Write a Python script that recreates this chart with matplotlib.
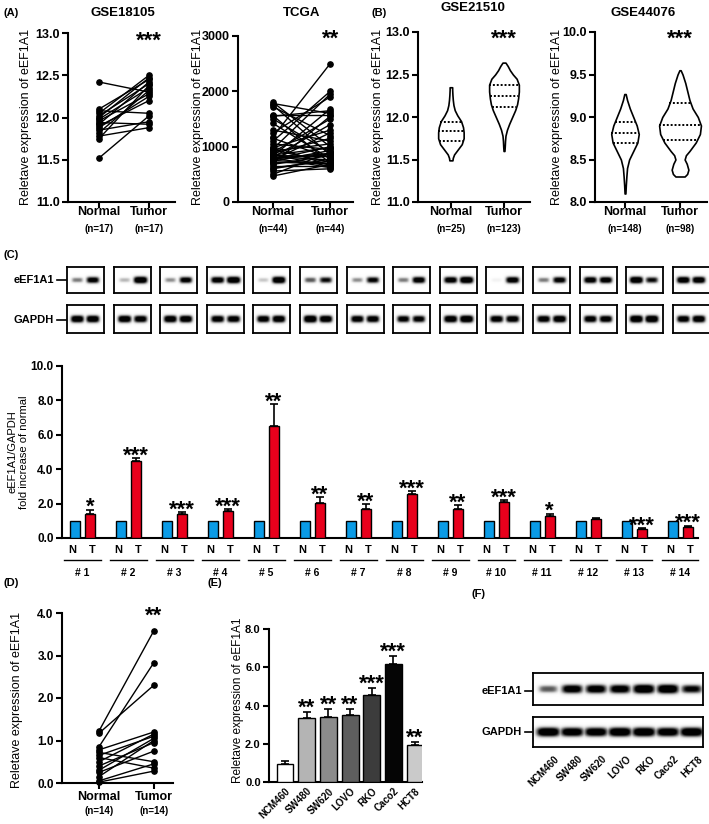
import numpy as np
import matplotlib
matplotlib.use("Agg")
import matplotlib.pyplot as plt
from matplotlib.ticker import FormatStrFormatter
from matplotlib.lines import Line2D

plt.rcParams['font.family'] = ['Liberation Sans', 'DejaVu Sans']
plt.rcParams['font.weight'] = 'bold'

# ---------------- DATA ----------------
gse18105_normal = [12.42, 12.10, 12.08, 12.05, 12.02, 12.00, 11.98, 11.96, 11.94, 11.92, 11.90, 11.88, 11.85, 11.82, 11.78, 11.75, 11.52]
gse18105_tumor = [12.30, 12.45, 12.05, 12.50, 12.40, 12.47, 12.35, 12.28, 11.92, 12.42, 12.20, 12.25, 11.95, 12.32, 11.88, 12.38, 12.02]

tcga_normal = [1800, 1780, 1750, 1720, 1580, 1560, 1550, 1500, 1420, 1300, 1250, 1180, 1150, 1100, 1050,
               1000, 980, 960, 940, 920, 900, 880, 860, 850, 840, 830, 820, 810, 800, 790, 780, 770,
               760, 750, 740, 720, 700, 680, 650, 620, 600, 560, 500, 470]
tcga_tumor = [1000, 1600, 850, 1200, 1580, 700, 1650, 900, 780, 1100, 1900, 2500, 800, 2000, 950,
              660, 1300, 1950, 720, 1050, 1500, 1150, 640, 980, 820, 1680, 760, 1400, 620, 880, 860, 1000,
              1250, 700, 930, 690, 1550, 840, 650, 740, 780, 600, 900, 680]

# violin outlines: levels and relative half-widths
v21510_n_y = [11.49, 11.52, 11.56, 11.62, 11.68, 11.75, 11.82, 11.88, 11.95, 12.02, 12.08, 12.14, 12.20, 12.26, 12.32, 12.35]
v21510_n_w = [0.12, 0.15, 0.25, 0.55, 0.85, 1.0, 1.0, 0.95, 0.8, 0.5, 0.3, 0.2, 0.15, 0.12, 0.1, 0.1]
v21510_n_q = [11.72, 11.83, 11.94]
v21510_t_y = [11.60, 11.65, 11.72, 11.78, 11.85, 11.92, 12.00, 12.08, 12.15, 12.22, 12.30, 12.38, 12.45, 12.50, 12.55, 12.60, 12.64]
v21510_t_w = [0.03, 0.05, 0.07, 0.1, 0.2, 0.35, 0.55, 0.75, 0.88, 0.95, 1.0, 1.0, 0.85, 0.6, 0.4, 0.25, 0.1]
v21510_t_q = [12.12, 12.25, 12.38]
v44076_n_y = [8.10, 8.20, 8.30, 8.40, 8.50, 8.60, 8.70, 8.80, 8.90, 9.00, 9.10, 9.20, 9.27]
v44076_n_w = [0.03, 0.06, 0.1, 0.15, 0.3, 0.6, 0.9, 1.0, 0.85, 0.6, 0.35, 0.15, 0.05]
v44076_n_q = [8.70, 8.81, 8.94]
v44076_t_y = [8.30, 8.33, 8.38, 8.45, 8.50, 8.55, 8.60, 8.70, 8.80, 8.90, 9.00, 9.10, 9.20, 9.30, 9.40, 9.50, 9.55]
v44076_t_w = [0.22, 0.34, 0.4, 0.32, 0.22, 0.28, 0.45, 0.75, 0.95, 1.0, 0.85, 0.6, 0.45, 0.35, 0.25, 0.12, 0.03]
v44076_t_q = [8.73, 8.91, 9.16]

samples = ['# 1', '# 2', '# 3', '# 4', '# 5', '# 6', '# 7', '# 8', '# 9', '# 10', '# 11', '# 12', '# 13', '# 14']
c_normal = [1.0] * 14
c_tumor = [1.38, 4.49, 1.38, 1.59, 6.52, 2.06, 1.71, 2.54, 1.67, 2.08, 1.28, 1.10, 0.52, 0.64]
c_tumor_err = [0.27, 0.17, 0.13, 0.08, 1.25, 0.33, 0.25, 0.20, 0.23, 0.11, 0.14, 0.08, 0.06, 0.08]
c_stars = ['*', '***', '***', '***', '**', '**', '**', '***', '**', '***', '*', '', '***', '***']

c_blot_eef_n = [0.45, 0.3, 0.4, 0.9, 0.25, 0.55, 0.4, 0.45, 0.9, 0.08, 0.45, 0.9, 1.0, 0.95]
c_blot_eef_t = [0.85, 1.0, 0.85, 1.0, 1.0, 0.75, 0.8, 0.9, 1.0, 0.9, 0.85, 0.9, 0.75, 0.95]
c_blot_gap_n = [0.95, 0.95, 0.95, 0.9, 0.9, 1.0, 0.9, 0.85, 0.95, 0.9, 0.9, 0.9, 1.0, 0.9]
c_blot_gap_t = [0.95, 0.9, 0.95, 0.9, 0.95, 0.95, 0.9, 0.85, 1.0, 0.9, 0.95, 0.9, 1.0, 0.95]

d_normal = [1.22, 1.17, 0.85, 0.78, 0.72, 0.65, 0.60, 0.50, 0.40, 0.30, 0.25, 0.15, 0.05, 0.02]
d_tumor = [3.58, 2.30, 2.83, 1.20, 0.50, 1.10, 0.35, 1.15, 0.95, 1.05, 0.75, 1.00, 0.45, 0.28]

cells = ['NCM460', 'SW480', 'SW620', 'LOVO', 'RKO', 'Caco2', 'HCT8']
e_values = [0.96, 3.34, 3.38, 3.52, 4.53, 6.17, 1.92]
e_err = [0.14, 0.33, 0.42, 0.28, 0.37, 0.40, 0.17]
e_stars = ['', '**', '**', '**', '***', '***', '**']
e_colors = ['#ffffff', '#b4b4b4', '#8c8c8c', '#5e5e5e', '#3c3c3c', '#050505', '#cacaca']

f_eef = [0.55, 0.9, 0.9, 0.9, 1.0, 1.0, 0.8]
f_gap = [1.0, 0.95, 0.95, 1.0, 1.0, 0.95, 1.0]

# ---------------- LAYOUT HELPERS ----------------
W, H = 709, 824
fig = plt.figure(figsize=(W / 100, H / 100), dpi=100)


def px_ax(l, t, r, b):
    return fig.add_axes([l / W, 1 - b / H, (r - l) / W, (b - t) / H])


def ftext(x, y, s, **kw):
    fig.text(x / W, 1 - y / H, s, **kw)


def style(ax, lw=1.5, fs=9):
    for s in ['top', 'right']:
        ax.spines[s].set_visible(False)
    for s in ['left', 'bottom']:
        ax.spines[s].set_linewidth(lw)
    ax.tick_params(width=lw, length=4, labelsize=fs, pad=2)


def star(ax, x, y, s, off=8, fs=16):
    ax.annotate(s, (x, y), xytext=(0, off - 7), textcoords='offset pixels',
                ha='center', va='center', fontsize=fs, fontweight='bold', annotation_clip=False)


def ylab(x, y, s, fs=9):
    ftext(x, y, s, rotation=90, ha='center', va='center', fontsize=fs, fontweight='normal')


def group_labels(ax, ns, off1=-10, off2=-27):
    for x, lab in zip([1, 2], ['Normal', 'Tumor']):
        ax.annotate(lab, (x, 0), xycoords=('data', 'axes fraction'), xytext=(0, off1),
                    textcoords='offset pixels', ha='center', va='center', fontsize=9, fontweight='bold')
    for x, n in zip([1, 2], ns):
        ax.annotate('(n=%d)' % n, (x, 0), xycoords=('data', 'axes fraction'), xytext=(0, off2),
                    textcoords='offset pixels', ha='center', va='center', fontsize=7, fontweight='bold')


def paired(ax, normal, tumor):
    for a, b in zip(normal, tumor):
        ax.plot([1, 2], [a, b], color='k', lw=1.0, marker='o', ms=3.8, mfc='k', mec='k', clip_on=False)
    ax.set_xticks([1, 2])
    ax.set_xticklabels(['', ''])


def violin(ax, x0, ys, ws, maxw, quarts):
    ys = np.asarray(ys)
    hw = np.asarray(ws) * maxw
    ax.fill_betweenx(ys, x0 - hw, x0 + hw, facecolor='white', edgecolor='k', lw=1.2)
    for q in quarts:
        w = np.interp(q, ys, hw)
        ax.plot([x0 - w, x0 + w], [q, q], color='k', lw=1.4, ls=(0, (1, 1)))


def blot(ax, intens, lanes, hw0, th0):
    nx, ny = 240, 60
    X, Y = np.meshgrid(np.linspace(0, 1, nx), np.linspace(0, 1, ny))
    img = np.zeros_like(X)
    for xc, v in zip(lanes, intens):
        th = th0 * (0.55 + 0.55 * v)
        hw = hw0 * (0.8 + 0.3 * v)
        img = np.maximum(img, v * np.exp(-np.abs((X - xc) / hw) ** 4) * np.exp(-np.abs((Y - 0.5) / th) ** 2.5))
    ax.imshow(img, cmap='Greys', vmin=0, vmax=0.75, extent=(0, 1, 0, 1), aspect='auto',
              interpolation='bilinear')
    ax.set_xticks([])
    ax.set_yticks([])
    ax.set_xlim(0, 1)
    ax.set_ylim(0, 1)
    for s in ax.spines.values():
        s.set_linewidth(1.3)


# ---------------- PANEL A ----------------
ax = px_ax(68, 33, 175, 202)
style(ax)
paired(ax, gse18105_normal, gse18105_tumor)
ax.set_xlim(0.38, 2.52)
ax.set_ylim(11.0, 13.0)
ax.set_yticks([11.0, 11.5, 12.0, 12.5, 13.0])
ax.yaxis.set_major_formatter(FormatStrFormatter('%.1f'))
star(ax, 2, 12.89, '***')
group_labels(ax, [17, 17])
ylab(26, 117, 'Reletave expression of eEF1A1')
ftext(123, 13, 'GSE18105', ha='center', va='center', fontsize=9.5)

ax = px_ax(238, 36, 353, 202)
style(ax)
paired(ax, tcga_normal, tcga_tumor)
ax.set_xlim(0.386, 2.4)
ax.set_ylim(0, 3000)
ax.set_yticks([0, 1000, 2000, 3000])
star(ax, 2, 2930, '**')
group_labels(ax, [44, 44])
ylab(198, 117, 'Reletave expression of eEF1A1')
ftext(302, 13, 'TCGA', ha='center', va='center', fontsize=9.5)
ftext(3, 13, '(A)', ha='left', va='center', fontsize=8)

# ---------------- PANEL B ----------------
ax = px_ax(418, 32, 530, 202)
style(ax)
violin(ax, 1, v21510_n_y, v21510_n_w, 0.24, v21510_n_q)
violin(ax, 2, v21510_t_y, v21510_t_w, 0.28, v21510_t_q)
ax.set_xticks([1, 2])
ax.set_xticklabels(['', ''])
ax.set_xlim(0.38, 2.49)
ax.set_ylim(11.0, 13.0)
ax.set_yticks([11.0, 11.5, 12.0, 12.5, 13.0])
ax.yaxis.set_major_formatter(FormatStrFormatter('%.1f'))
star(ax, 2, 12.9, '***')
group_labels(ax, [25, 123])
ylab(378, 117, 'Reletave expression of eEF1A1')
ftext(473, 8, 'GSE21510', ha='center', va='center', fontsize=9.5)
ftext(372, 13, '(B)', ha='left', va='center', fontsize=8)

ax = px_ax(595, 32, 707, 202)
style(ax)
violin(ax, 1, v44076_n_y, v44076_n_w, 0.25, v44076_n_q)
violin(ax, 2, v44076_t_y, v44076_t_w, 0.38, v44076_t_q)
ax.set_xticks([1, 2])
ax.set_xticklabels(['', ''])
ax.set_xlim(0.455, 2.49)
ax.set_ylim(8.0, 10.0)
ax.set_yticks([8.0, 8.5, 9.0, 9.5, 10.0])
ax.yaxis.set_major_formatter(FormatStrFormatter('%.1f'))
star(ax, 2, 9.9, '***')
group_labels(ax, [148, 98])
ylab(557, 117, 'Reletave expression of eEF1A1')
ftext(643, 13, 'GSE44076', ha='center', va='center', fontsize=9.5)

# ---------------- PANEL C : blots ----------------
ftext(3, 255, '(C)', ha='left', va='center', fontsize=8)
for i in range(14):
    l = 67 + i * 46.6
    axb = px_ax(l, 267, l + 37, 293)
    blot(axb, [c_blot_eef_n[i], c_blot_eef_t[i]], [0.28, 0.70], 0.17, 0.13)
    axb = px_ax(l, 305, l + 37, 333)
    blot(axb, [c_blot_gap_n[i], c_blot_gap_t[i]], [0.28, 0.70], 0.17, 0.13)
ftext(54, 280, 'eEF1A1', ha='right', va='center', fontsize=8)
ftext(54, 320, 'GAPDH', ha='right', va='center', fontsize=8)
for yy in (280, 320):
    fig.add_artist(Line2D([57 / W, 66 / W], [1 - yy / H, 1 - yy / H], color='k', lw=1.2))

# ---------------- PANEL C : bars ----------------
ax = px_ax(62, 366, 698, 538)
style(ax, fs=8.5)
xg = np.arange(len(samples))
dx = 0.163
bw = 0.22
ax.bar(xg - dx, c_normal, bw, color='#0a9be6', edgecolor='k', lw=1.0, zorder=3)
ax.bar(xg + dx, c_tumor, bw, color='#e8001c', edgecolor='k', lw=1.0, zorder=3,
       yerr=[np.zeros(14), c_tumor_err], error_kw=dict(ecolor='k', elinewidth=1.2, capsize=3, capthick=1.2))
for i in range(14):
    star(ax, xg[i] + dx, c_tumor[i] + c_tumor_err[i], c_stars[i], off=9)
ax.set_xlim(-0.446, 13.39)
ax.set_ylim(0, 10)
ax.set_yticks([0, 2, 4, 6, 8, 10])
ax.yaxis.set_major_formatter(FormatStrFormatter('%.1f'))
ax.set_xticks([])
tr = ax.get_xaxis_transform()
for i in range(14):
    ax.text(xg[i] - dx - 0.05, -0.07, 'N', transform=tr, ha='center', va='center', fontsize=8)
    ax.text(xg[i] + dx + 0.05, -0.07, 'T', transform=tr, ha='center', va='center', fontsize=8)
    ax.plot([xg[i] - 0.4, xg[i] + 0.4], [-0.128, -0.128], transform=tr, color='k', lw=1.0, clip_on=False)
    ax.text(xg[i], -0.205, samples[i], transform=tr, ha='center', va='center', fontsize=7.5)
ftext(12, 452, 'eEF1A1/GAPDH', rotation=90, ha='center', va='center', fontsize=8, fontweight='normal')
ftext(24, 452, 'fold increase of normal', rotation=90, ha='center', va='center', fontsize=8, fontweight='normal')

# ---------------- PANEL D ----------------
ftext(3, 583, '(D)', ha='left', va='center', fontsize=8)
ax = px_ax(62, 613, 173, 783)
style(ax, fs=8.5)
paired(ax, d_normal, d_tumor)
ax.set_xlim(0.327, 2.35)
ax.set_ylim(0, 4)
ax.set_yticks([0, 1, 2, 3, 4])
ax.yaxis.set_major_formatter(FormatStrFormatter('%.1f'))
star(ax, 2, 3.9, '**')
group_labels(ax, [14, 14], off1=-14, off2=-28)
ylab(17, 700, 'Reletave expression of eEF1A1')

# ---------------- PANEL E ----------------
ftext(208, 583, '(E)', ha='left', va='center', fontsize=8)
ax = px_ax(269, 629, 422, 782)
style(ax, fs=8)
xe = np.arange(len(cells))
ax.bar(xe, e_values, 0.78, color=e_colors, edgecolor='k', lw=1.0, zorder=3,
       yerr=[np.zeros(7), e_err], error_kw=dict(ecolor='k', elinewidth=1.2, capsize=3, capthick=1.2))
for i in range(7):
    star(ax, xe[i], e_values[i] + e_err[i], e_stars[i], off=11)
ax.set_xlim(-0.74, 6.32)
ax.set_ylim(0, 8)
ax.set_yticks([0, 2, 4, 6, 8])
ax.yaxis.set_major_formatter(FormatStrFormatter('%.1f'))
ax.set_xticks(xe)
ax.set_xticklabels(cells, rotation=45, ha='right', rotation_mode='anchor', fontsize=7)
ax.tick_params(axis='x', length=0, pad=3)
ylab(238, 700, 'Reletave expression of eEF1A1', fs=8.5)

# ---------------- PANEL F ----------------
ftext(472, 594, '(F)', ha='left', va='center', fontsize=8)
lanes_f = [(548 + 24 * i - 533) / 170 for i in range(7)]
axb = px_ax(533, 673, 703, 705)
blot(axb, f_eef, lanes_f, 0.06, 0.14)
axb = px_ax(533, 717, 703, 747)
blot(axb, f_gap, lanes_f, 0.065, 0.15)
ftext(522, 691, 'eEF1A1', ha='right', va='center', fontsize=8)
ftext(522, 732, 'GAPDH', ha='right', va='center', fontsize=8)
for yy in (691, 732):
    fig.add_artist(Line2D([525 / W, 532 / W], [1 - yy / H, 1 - yy / H], color='k', lw=1.2))
for i, c in enumerate(cells):
    ftext(548 + 24 * i + 6, 754, c, rotation=45, ha='right', va='top', rotation_mode='anchor', fontsize=7)

fig.savefig('out.png', dpi=100)
